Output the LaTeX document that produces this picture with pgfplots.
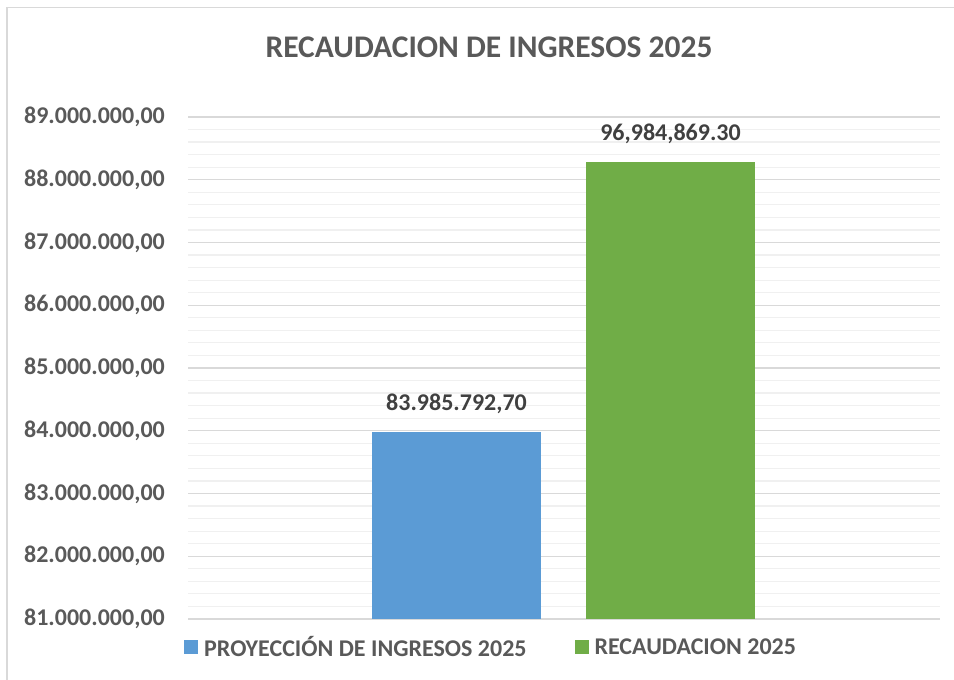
\documentclass[border=0pt]{standalone}
\usepackage{pgfplots}
\pgfplotsset{compat=1.18}
\usepackage{fontspec}
\setmainfont{Carlito}
\definecolor{txtgray}{HTML}{595959}
\definecolor{lblgray}{HTML}{404040}
\definecolor{majgrid}{HTML}{D9D9D9}
\definecolor{mingrid}{HTML}{F0F0F0}
\definecolor{barblue}{HTML}{5B9BD5}
\definecolor{bargreen}{HTML}{70AD47}
\begin{document}
\begin{tikzpicture}[x=1bp,y=1bp]
\path[use as bounding box] (0,0) rectangle (954,680);
\draw[majgrid, line width=1.5bp] (7,0) -- (7,672.5) -- (954,672.5);
\begin{axis}[
  at={(188bp,61bp)}, anchor=south west,
  scale only axis, width=752bp, height=502bp,
  xmin=-1.2547, xmax=2.2593,
  ymin=81000000, ymax=89000000,
  axis line style={draw=none},
  xtick=\empty,
  ytick={81000000,82000000,83000000,84000000,85000000,86000000,87000000,88000000,89000000},
  yticklabels={{81.000.000,00},{82.000.000,00},{83.000.000,00},{84.000.000,00},{85.000.000,00},{86.000.000,00},{87.000.000,00},{88.000.000,00},{89.000.000,00}},
  scaled y ticks=false,
  minor y tick num=4,
  major tick length=0pt, minor tick length=0pt,
  ymajorgrids, yminorgrids,
  major grid style={majgrid, line width=1.2bp},
  minor grid style={mingrid, line width=1.2bp},
  yticklabel style={font=\fontsize{24bp}{28bp}\selectfont\bfseries, text=txtgray, anchor=east, inner sep=0pt, xshift=-23bp},
  title={RECAUDACION DE INGRESOS 2025},
  title style={font=\fontsize{31.5bp}{36bp}\selectfont\bfseries, text=txtgray, at={(0.4003,1.1275)}, anchor=center, inner sep=0pt},
  ybar, bar width=0.7897, bar shift=0pt,
  every node near coord/.append style={font=\fontsize{24bp}{28bp}\selectfont\bfseries, text=lblgray, anchor=south, inner sep=0pt, yshift=18bp},
  legend columns=2,
  legend style={draw=none, fill=none, at={(-0.0053,-0.0558)}, anchor=west, inner sep=0pt,
    font=\fontsize{24bp}{28bp}\selectfont\bfseries, text=txtgray,
    /tikz/every even column/.append style={column sep=48bp},
    nodes={inner sep=0pt}},
  legend image code/.code={\fill[#1] (0bp,-7bp) rectangle (14bp,7bp);},
  legend cell align=left,
]
\addplot[fill=barblue, draw=none, nodes near coords={83.985.792,70}] coordinates {(0,83985792.70)};
\addlegendentry{\hspace{6bp}PROYECCIÓN DE INGRESOS 2025}
\addplot[fill=bargreen, draw=none, nodes near coords={96,984,869.30}] coordinates {(1,88290000)};
\addlegendentry{\hspace{6bp}RECAUDACION 2025}
\end{axis}
\end{tikzpicture}
\end{document}
